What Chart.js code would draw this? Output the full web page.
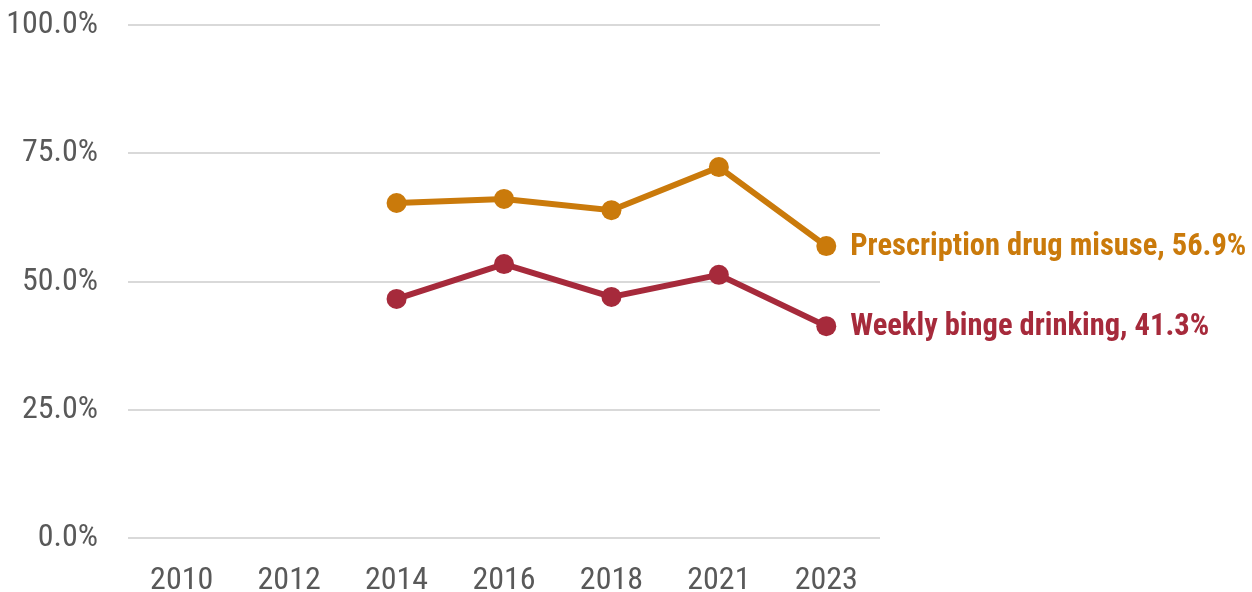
<!DOCTYPE html>
<html>
<head>
<meta charset="utf-8">
<script src="https://cdn.jsdelivr.net/npm/chart.js@4.4.0/dist/chart.umd.min.js"></script>
<style>
  body { margin: 0; background: #fff; }
  #wrap { width: 1252px; height: 592px; }
</style>
</head>
<body>
<div id="wrap"><canvas id="canvas" width="1252" height="592"></canvas></div>
<script>
var years = ['2010', '2012', '2014', '2016', '2018', '2021', '2023'];
var rxMisuse = [null, null, 65.3, 66.1, 63.9, 72.3, 56.9];
var bingeDrinking = [null, null, 46.6, 53.4, 47.0, 51.3, 41.3];
var seriesNames = ['Prescription drug misuse', 'Weekly binge drinking'];
var yTicks = [0, 25, 50, 75, 100];

var orange = '#CA7A0B';
var red = '#A62A3B';
var fontName = '"Roboto Condensed", "Liberation Sans Narrow", sans-serif';

// label at the end of each line
var endLabels = {
    id: 'endLabels',
    afterDatasetsDraw: function (chart) {
        var ctx = chart.ctx;
        ctx.save();
        ctx.font = 'bold 30.5px ' + fontName;
        ctx.textBaseline = 'middle';
        ctx.textAlign = 'left';
        chart.data.datasets.forEach(function (ds, i) {
            var meta = chart.getDatasetMeta(i);
            var last = ds.data.length - 1;
            var pt = meta.data[last];
            ctx.fillStyle = ds.borderColor;
            ctx.fillText(ds.label + ', ' + ds.data[last].toFixed(1) + '%', pt.x + 24, pt.y + 1);
        });
        ctx.restore();
    }
};

var ctx = document.getElementById('canvas');
var myChart = new Chart(ctx, {
    type: 'line',
    data: {
        labels: years,
        datasets: [
            {
                label: seriesNames[0],
                data: rxMisuse,
                borderColor: orange,
                backgroundColor: orange,
                borderWidth: 6,
                pointRadius: 10,
                pointHoverRadius: 10,
                pointBorderWidth: 0
            },
            {
                label: seriesNames[1],
                data: bingeDrinking,
                borderColor: red,
                backgroundColor: red,
                borderWidth: 6,
                pointRadius: 10,
                pointHoverRadius: 10,
                pointBorderWidth: 0
            }
        ]
    },
    options: {
        responsive: false,
        animation: false,
        layout: { padding: { top: 25, right: 372, left: 0, bottom: 0 } },
        plugins: {
            legend: { display: false },
            tooltip: { enabled: false }
        },
        elements: { line: { tension: 0 } },
        scales: {
            x: {
                offset: true,
                grid: { display: false },
                border: { display: false },
                ticks: {
                    color: '#595959',
                    font: { family: fontName, size: 32 },
                    padding: 16,
                    maxRotation: 0
                },
                afterFit: function (scale) { scale.height = 54; }
            },
            y: {
                min: 0,
                max: 100,
                afterBuildTicks: function (scale) {
                    scale.ticks = yTicks.map(function (v) { return { value: v }; });
                },
                grid: { color: '#D9D9D9', lineWidth: 2, drawTicks: false },
                border: { display: false },
                ticks: {
                    color: '#595959',
                    font: { family: fontName, size: 32 },
                    padding: 30,
                    callback: function (v) { return v.toFixed(1) + '%'; }
                },
                afterFit: function (scale) {
                    scale.width = 128;
                    scale.paddingTop = 0;
                    scale.paddingBottom = 0;
                }
            }
        }
    },
    plugins: [endLabels]
});
</script>
</body>
</html>
